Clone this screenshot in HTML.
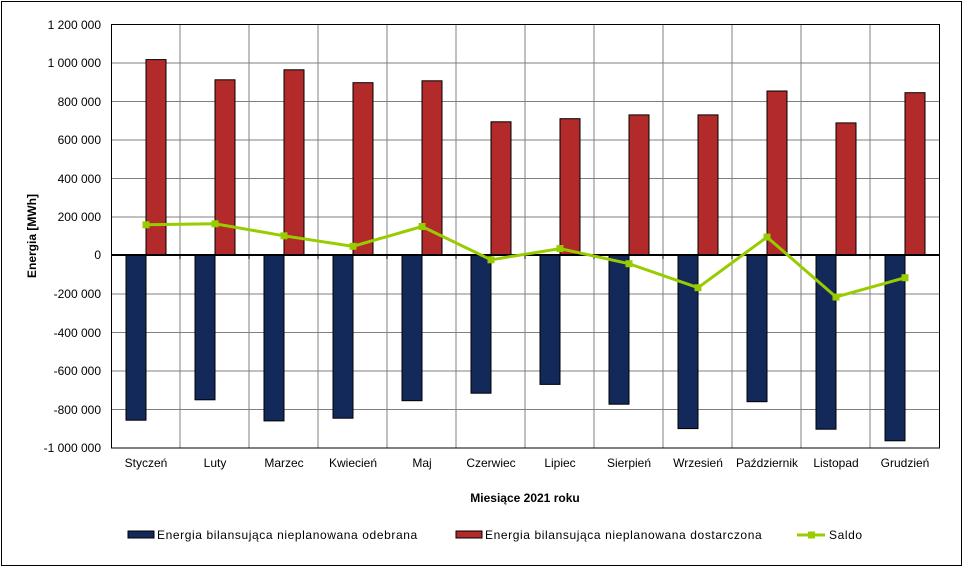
<!DOCTYPE html><html><head><style>body{margin:0;background:#fff}svg{display:block;font-family:"Liberation Sans",Arial,sans-serif}</style></head><body>
<svg width="970" height="572" viewBox="0 0 970 572">
<rect x="1.5" y="1.5" width="960" height="564" fill="#fff" stroke="#000"/>
<g stroke="#808080" stroke-width="1">
<line x1="111" y1="24.5" x2="939" y2="24.5"/><line x1="111" y1="63" x2="939" y2="63"/><line x1="111" y1="101.5" x2="939" y2="101.5"/><line x1="111" y1="140" x2="939" y2="140"/><line x1="111" y1="178.5" x2="939" y2="178.5"/><line x1="111" y1="217" x2="939" y2="217"/><line x1="111" y1="294" x2="939" y2="294"/><line x1="111" y1="332.5" x2="939" y2="332.5"/><line x1="111" y1="371" x2="939" y2="371"/><line x1="111" y1="409.5" x2="939" y2="409.5"/>
<line x1="180" y1="24" x2="180" y2="448"/><line x1="249" y1="24" x2="249" y2="448"/><line x1="318" y1="24" x2="318" y2="448"/><line x1="387" y1="24" x2="387" y2="448"/><line x1="456" y1="24" x2="456" y2="448"/><line x1="525" y1="24" x2="525" y2="448"/><line x1="594" y1="24" x2="594" y2="448"/><line x1="663" y1="24" x2="663" y2="448"/><line x1="732" y1="24" x2="732" y2="448"/><line x1="801" y1="24" x2="801" y2="448"/><line x1="870" y1="24" x2="870" y2="448"/>
</g>
<rect x="111.5" y="24.5" width="828" height="423.5" fill="none" stroke="#000"/>
<g fill="#b22a2a" stroke="#000" stroke-width="1">
<rect x="146" y="59.6" width="20" height="195.4"/><rect x="215" y="79.8" width="20" height="175.2"/><rect x="284" y="69.8" width="20" height="185.2"/><rect x="353" y="82.7" width="20" height="172.3"/><rect x="422" y="80.8" width="20" height="174.2"/><rect x="491" y="121.8" width="20" height="133.2"/><rect x="560" y="118.7" width="20" height="136.3"/><rect x="629" y="114.9" width="20" height="140.1"/><rect x="698" y="114.9" width="20" height="140.1"/><rect x="767" y="91" width="20" height="164"/><rect x="836" y="122.9" width="20" height="132.1"/><rect x="905" y="92.7" width="20" height="162.3"/>
</g>
<g fill="#12295a" stroke="#000" stroke-width="1">
<rect x="126" y="255" width="20" height="165.2"/><rect x="195" y="255" width="20" height="144.8"/><rect x="264" y="255" width="20" height="165.9"/><rect x="333" y="255" width="20" height="163.2"/><rect x="402" y="255" width="20" height="145.7"/><rect x="471" y="255" width="20" height="138.2"/><rect x="540" y="255" width="20" height="129.4"/><rect x="609" y="255" width="20" height="149.2"/><rect x="678" y="255" width="20" height="173.6"/><rect x="747" y="255" width="20" height="146.7"/><rect x="816" y="255" width="20" height="174.2"/><rect x="885" y="255" width="20" height="185.8"/>
</g>
<line x1="111" y1="255" x2="939" y2="255" stroke="#000" stroke-width="2"/>
<g stroke="#000"><line x1="180" y1="255" x2="180" y2="259"/><line x1="249" y1="255" x2="249" y2="259"/><line x1="318" y1="255" x2="318" y2="259"/><line x1="387" y1="255" x2="387" y2="259"/><line x1="456" y1="255" x2="456" y2="259"/><line x1="525" y1="255" x2="525" y2="259"/><line x1="594" y1="255" x2="594" y2="259"/><line x1="663" y1="255" x2="663" y2="259"/><line x1="732" y1="255" x2="732" y2="259"/><line x1="801" y1="255" x2="801" y2="259"/><line x1="870" y1="255" x2="870" y2="259"/></g>
<polyline fill="none" stroke="#99cc00" stroke-width="3" points="146,224.8 215,223.8 284,235.8 353,246.3 422,226.5 491,259.8 560,248.6 629,263.7 698,287.7 767,237.1 836,297 905,277.7"/>
<g fill="#99cc00"><rect x="142.5" y="221.3" width="7" height="7"/><rect x="211.5" y="220.3" width="7" height="7"/><rect x="280.5" y="232.3" width="7" height="7"/><rect x="349.5" y="242.8" width="7" height="7"/><rect x="418.5" y="223" width="7" height="7"/><rect x="487.5" y="256.3" width="7" height="7"/><rect x="556.5" y="245.1" width="7" height="7"/><rect x="625.5" y="260.2" width="7" height="7"/><rect x="694.5" y="284.2" width="7" height="7"/><rect x="763.5" y="233.6" width="7" height="7"/><rect x="832.5" y="293.5" width="7" height="7"/><rect x="901.5" y="274.2" width="7" height="7"/></g>
<g font-size="12" fill="#000" text-anchor="end">
<text x="101" y="29">1 200 000</text><text x="101" y="67">1 000 000</text><text x="101" y="106">800 000</text><text x="101" y="144">600 000</text><text x="101" y="183">400 000</text><text x="101" y="221">200 000</text><text x="101" y="259">0</text><text x="101" y="298">-200 000</text><text x="101" y="337">-400 000</text><text x="101" y="375">-600 000</text><text x="101" y="414">-800 000</text><text x="101" y="452">-1 000 000</text>
</g>
<g font-size="12" fill="#000" text-anchor="middle">
<text x="146" y="467">Styczeń</text><text x="215" y="467">Luty</text><text x="284" y="467">Marzec</text><text x="353" y="467">Kwiecień</text><text x="422" y="467">Maj</text><text x="491" y="467">Czerwiec</text><text x="560" y="467">Lipiec</text><text x="629" y="467">Sierpień</text><text x="698" y="467">Wrzesień</text><text x="767" y="467">Październik</text><text x="836" y="467">Listopad</text><text x="905" y="467">Grudzień</text>
</g>
<text x="525" y="502" font-size="12" font-weight="bold" text-anchor="middle">Miesiące 2021  roku</text>
<text transform="translate(36,236) rotate(-90)" font-size="12" font-weight="bold" text-anchor="middle">Energia [MWh]</text>
<g font-size="12" letter-spacing="0.6">
<rect x="128" y="531" width="26" height="7" fill="#12295a" stroke="#000"/><text x="157" y="539">Energia bilansująca nieplanowana odebrana</text>
<rect x="456" y="531" width="26" height="7" fill="#b22a2a" stroke="#000"/><text x="485" y="539">Energia bilansująca nieplanowana dostarczona</text>
<line x1="797" y1="535" x2="825" y2="535" stroke="#99cc00" stroke-width="3"/><rect x="808" y="531.5" width="7" height="7" fill="#99cc00"/><text x="829" y="539">Saldo</text>
</g>
</svg></body></html>
